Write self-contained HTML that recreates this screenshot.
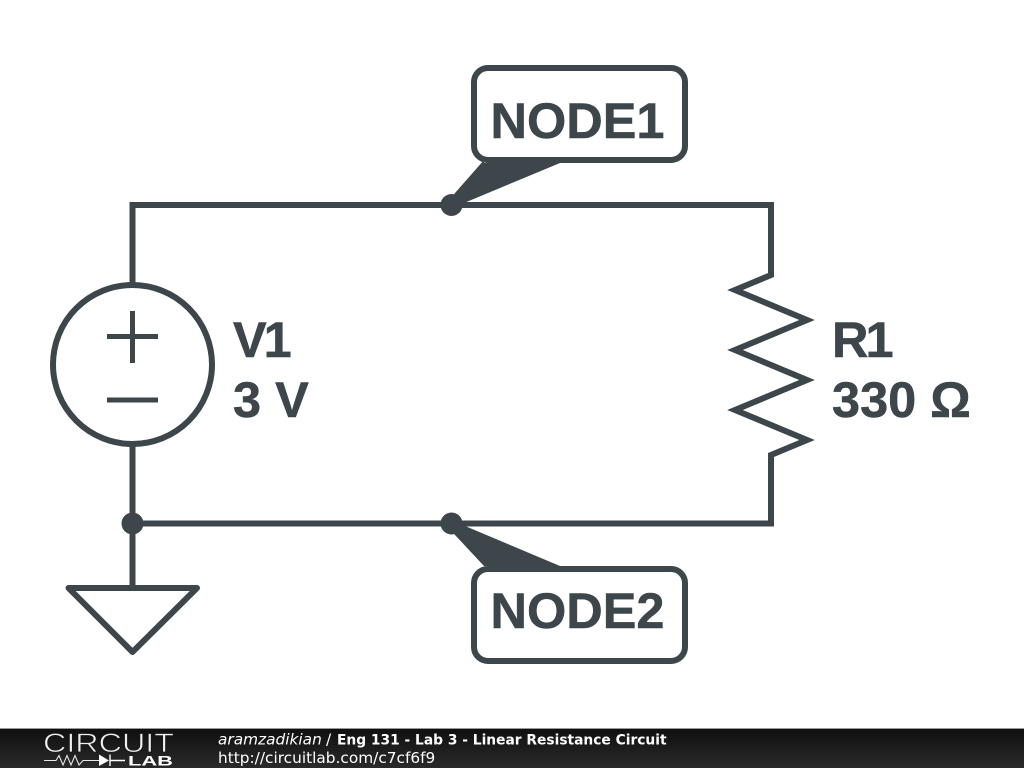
<!DOCTYPE html>
<html><head><meta charset="utf-8">
<style>
html,body{margin:0;padding:0;background:#fff;width:1024px;height:768px;overflow:hidden}
svg{display:block}
.l{font-family:"Liberation Sans",sans-serif;font-weight:bold;font-size:50.5px;fill:#3d464b;stroke:#3d464b;stroke-width:.5px}
.f{font-family:"DejaVu Sans",sans-serif;font-size:15.35px;fill:#fff}
.b{font-family:"DejaVu Sans",sans-serif;font-size:13.8px;font-weight:bold;fill:#fff}
</style></head><body>
<svg width="1024" height="768" viewBox="0 0 1024 768" xmlns="http://www.w3.org/2000/svg">
<defs><linearGradient id="g" x1="0" y1="0" x2="0" y2="1"><stop offset="0" stop-color="#101010"/><stop offset="1" stop-color="#2a2a2a"/></linearGradient></defs>
<rect width="1024" height="768" fill="#fff"/>
<g fill="none" stroke="#3d464b" stroke-width="6">
<polyline points="132.5,285 132.5,205 771,205 771,275 735,290 807,320 735,350 807,380 735,410 807,440 771,455 771,523.5 132.5,523.5"/>
<line x1="132.5" y1="444" x2="132.5" y2="590"/>
<circle cx="132.5" cy="364.5" r="79.5"/>
<line x1="107" y1="336.5" x2="158" y2="336.5" stroke-width="5"/>
<line x1="132.5" y1="311" x2="132.5" y2="363" stroke-width="5"/>
<line x1="107" y1="400" x2="158" y2="400" stroke-width="5"/>
<polygon points="68.5,588 197,588 132.5,652" stroke-linejoin="round"/>
<rect x="474" y="68" width="211" height="92" rx="14" fill="#fff"/>
<rect x="474" y="569" width="211" height="92" rx="14" fill="#fff"/>
</g>
<g fill="#3d464b">
<circle cx="451.5" cy="205" r="11"/><circle cx="451.5" cy="523.5" r="11"/><circle cx="132.5" cy="523.5" r="11"/>
<polygon points="448,201 484,160 484,163 560,163 452,208"/>
<polygon points="448,527.5 484,566 560,566 452,520.5"/>
</g>
<text class="l" x="490.5" y="138">NODE1</text>
<text class="l" x="490.5" y="628">NODE2</text>
<text class="l" x="233" y="357" letter-spacing="-3">V1</text>
<text class="l" x="233" y="417">3 V</text>
<text class="l" x="832" y="357" letter-spacing="-3">R1</text>
<text class="l" x="832" y="417">330 Ω</text>
<rect x="0" y="728" width="1024" height="1" fill="#999"/>
<rect x="0" y="729" width="1024" height="39" fill="url(#g)"/>
<text x="43" y="752" font-family="Liberation Sans,sans-serif" font-size="27" fill="#f0f0f0" stroke="#161616" stroke-width="0.7" textLength="131" lengthAdjust="spacingAndGlyphs">CIRCUIT</text>
<text x="128" y="765.5" font-family="Liberation Sans,sans-serif" font-weight="bold" font-size="14" fill="#fff" textLength="45" lengthAdjust="spacingAndGlyphs">LAB</text>
<polyline points="44,760.5 56,760.5 59,755.5 63,765 67,755.5 71,765 75,755.5 79,765 83,760.5 99,760.5" fill="none" stroke="#e8e8e8" stroke-width="1.1"/>
<polygon points="99,754.5 99,766 109,760.5" fill="#fff"/>
<path d="M110,754.5V766M110,760.5H125" stroke="#fff" stroke-width="1.4" fill="none"/>
<text class="f" x="218" y="744.5" font-style="italic">aramzadikian</text>
<text class="f" x="326" y="744.5">/</text>
<text class="b" x="337" y="744.5">Eng 131 - Lab 3 - Linear Resistance Circuit</text>
<text class="f" x="218" y="763">http://circuitlab.com/c7cf6f9</text>
</svg>
</body></html>
